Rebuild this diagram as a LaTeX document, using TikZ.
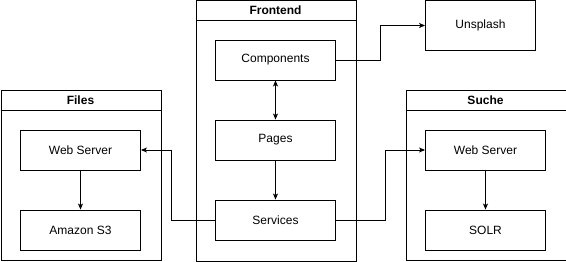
\documentclass[tikz,border=0pt]{standalone}
\usepackage{fontspec}
\setmainfont{Liberation Sans}
\usetikzlibrary{arrows.meta}
\begin{document}
\begin{tikzpicture}[x=1pt,y=-1pt,
  every node/.style={font=\fontsize{12}{14}\selectfont},
  box/.style={draw,line width=0.9pt,rectangle,inner sep=0pt},
  group/.style={draw,line width=0.9pt,rectangle,inner sep=0pt},
  title/.style={font=\fontsize{12}{14}\selectfont\bfseries},
  link/.style={line width=0.9pt,-{Stealth[length=6pt,width=5pt,inset=1.5pt]}},
  dlink/.style={line width=0.9pt,{Stealth[length=6pt,width=5pt,inset=1.5pt]}-{Stealth[length=6pt,width=5pt,inset=1.5pt]}}]
\useasboundingbox (0,0) rectangle (566,262);

% group containers with title bars
\node[group,anchor=north west,minimum width=160pt,minimum height=170pt] (files) at (0.5,90) {};
\draw[line width=0.9pt] (0.5,110) -- (160.5,110);
\node[title] (filesT) at (80.5,100) {Files};

\node[group,anchor=north west,minimum width=160pt,minimum height=260pt] (front) at (195.5,0.5) {};
\draw[line width=0.9pt] (195.5,20) -- (355.5,20);
\node[title] (frontT) at (275.5,10) {Frontend};

\node[group,anchor=north west,minimum width=160pt,minimum height=170pt] (suche) at (405.5,90) {};
\draw[line width=0.9pt] (405.5,110) -- (565.5,110);
\node[title] (sucheT) at (485.5,100) {Suche};

% frontend parts
\node[box,minimum width=120pt,minimum height=40pt] (comp) at (275.5,60) {Components};
\node[box,minimum width=120pt,minimum height=40pt] (pages) at (275.5,140) {Pages};
\node[box,minimum width=120pt,minimum height=40pt] (serv) at (275.5,220) {Services};

% external service
\node[box,minimum width=110pt,minimum height=50pt] (unsplash) at (480.5,25.5) {Unsplash};

% file storage
\node[box,minimum width=120pt,minimum height=40pt] (fws) at (80.5,150) {Web Server};
\node[box,minimum width=120pt,minimum height=40pt] (s3) at (80.5,230) {Amazon S3};

% search
\node[box,minimum width=120pt,minimum height=40pt] (sws) at (485.5,150) {Web Server};
\node[box,minimum width=120pt,minimum height=40pt] (solr) at (485.5,230) {SOLR};

% connectors
\draw[dlink] (comp) -- (pages);
\draw[link] (pages) -- (serv);
\draw[link] (fws) -- (s3);
\draw[link] (sws) -- (solr);
\draw[link] (comp.east) -- (380.5,60) |- (unsplash.west);
\draw[link] (serv.west) -- (171.5,220) |- (fws.east);
\draw[link] (serv.east) -- (385.5,220) |- (sws.west);
\end{tikzpicture}
\end{document}
